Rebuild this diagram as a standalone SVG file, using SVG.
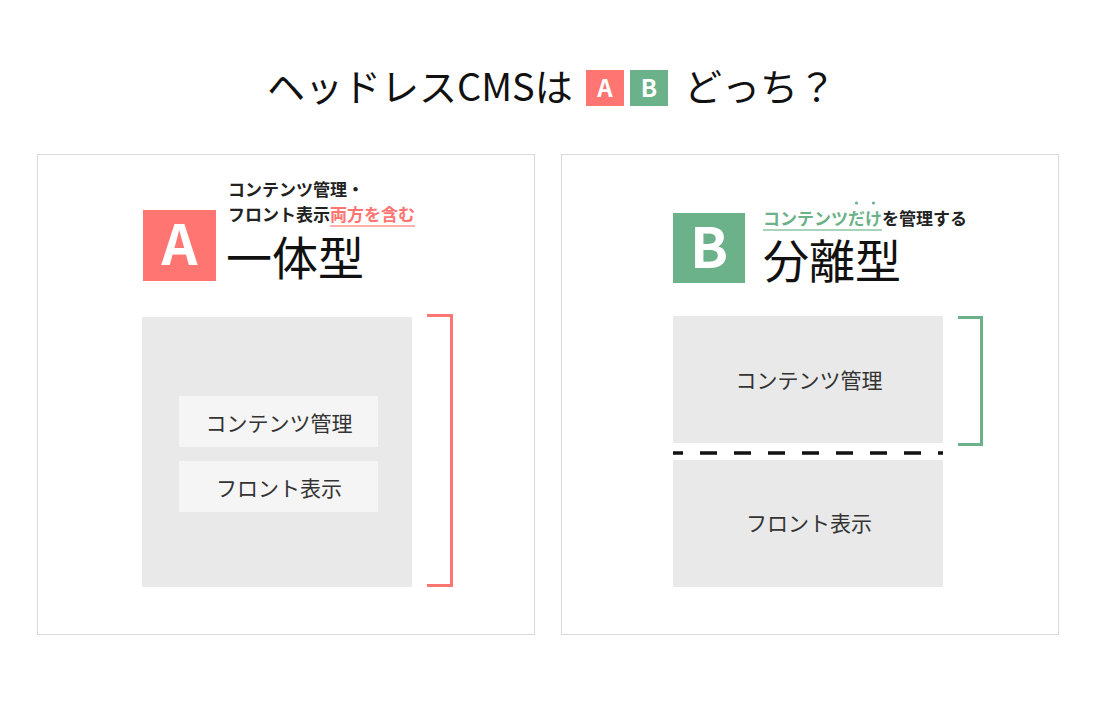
<svg xmlns="http://www.w3.org/2000/svg" width="1100" height="715" viewBox="0 0 1100 715">
<style>
text{font-family:"Noto Sans CJK JP","Noto Sans",sans-serif;}
.title{font-size:38px;fill:#111;}
.panel{fill:#fff;stroke:#d9d9d9;stroke-width:1;}
.gray{fill:#e9e9e9;}
.inner{fill:#f5f5f5;}
.lbl{font-size:21px;fill:#333;text-anchor:middle;}
.sub{font-size:17px;font-weight:700;fill:#222;}
.big{font-size:46px;fill:#111;}
.badge{font-weight:700;fill:#fff;text-anchor:middle;}
.red{fill:#ff7571;}
.green{fill:#6bb18a;}
</style>
<rect width="1100" height="715" fill="#fff"/>
<g id="title">
<text class="title" x="267" y="101">ヘッドレスCMSは</text>
<rect class="red" x="586" y="70" width="38" height="36"/>
<text class="badge" x="605" y="97" font-size="24">A</text>
<rect class="green" x="630" y="70" width="38" height="36"/>
<text class="badge" x="649" y="97" font-size="24">B</text>
<text class="title" x="684" y="101">どっち？</text>
</g>
<g id="panelA">
<rect class="panel" x="37.5" y="154.5" width="497" height="480"/>
<rect class="red" x="143" y="210" width="73" height="71"/>
<text class="badge" x="179.5" y="265" font-size="56">A</text>
<text class="sub" x="228" y="196">コンテンツ管理・</text>
<text class="sub" x="228" y="221">フロント表示<tspan fill="#ff7571">両方を含む</tspan></text>
<line x1="330" y1="226" x2="415" y2="226" stroke="#ff9592" stroke-width="1.5"/>
<text class="big" x="226" y="275">一体型</text>
</g>
<g id="blockA">
<rect class="gray" x="142" y="317" width="270" height="270"/>
</g>
<g id="contentA">
<rect class="inner" x="179" y="396" width="199" height="51"/>
<text class="lbl" x="279" y="431">コンテンツ管理</text>
</g>
<g id="frontA">
<rect class="inner" x="179" y="461" width="199" height="51"/>
<text class="lbl" x="279" y="496">フロント表示</text>
</g>
<g id="panelB">
<rect class="panel" x="561.5" y="154.5" width="497" height="480"/>
<rect class="green" x="673" y="213" width="72" height="70"/>
<text class="badge" x="709" y="268" font-size="56">B</text>
<circle cx="856.5" cy="203" r="1.6" fill="#6bb18a"/>
<circle cx="873.5" cy="203" r="1.6" fill="#6bb18a"/>
<text class="sub" x="763" y="225"><tspan fill="#6bb18a">コンテンツだけ</tspan>を管理する</text>
<line x1="763" y1="230" x2="882" y2="230" stroke="#8cc4a4" stroke-width="1.5"/>
<text class="big" x="763" y="278">分離型</text>
</g>
<g id="contentB">
<rect class="gray" x="673" y="316" width="270" height="127"/>
<text class="lbl" x="809" y="388">コンテンツ管理</text>
</g>
<g id="frontB">
<rect class="gray" x="673" y="460" width="270" height="127"/>
<text class="lbl" x="809" y="531">フロント表示</text>
</g>
<g id="connectors" fill="none">
<polyline points="427,315.5 451.5,315.5 451.5,585.5 427,585.5" stroke="#ff7571" stroke-width="3"/>
<polyline points="958,317.5 981.5,317.5 981.5,444.5 958,444.5" stroke="#6bb18a" stroke-width="3"/>
<line x1="673" y1="453" x2="943" y2="453" stroke="#111" stroke-width="3.5" stroke-dasharray="17 17" stroke-dashoffset="7"/>
</g>
</svg>
